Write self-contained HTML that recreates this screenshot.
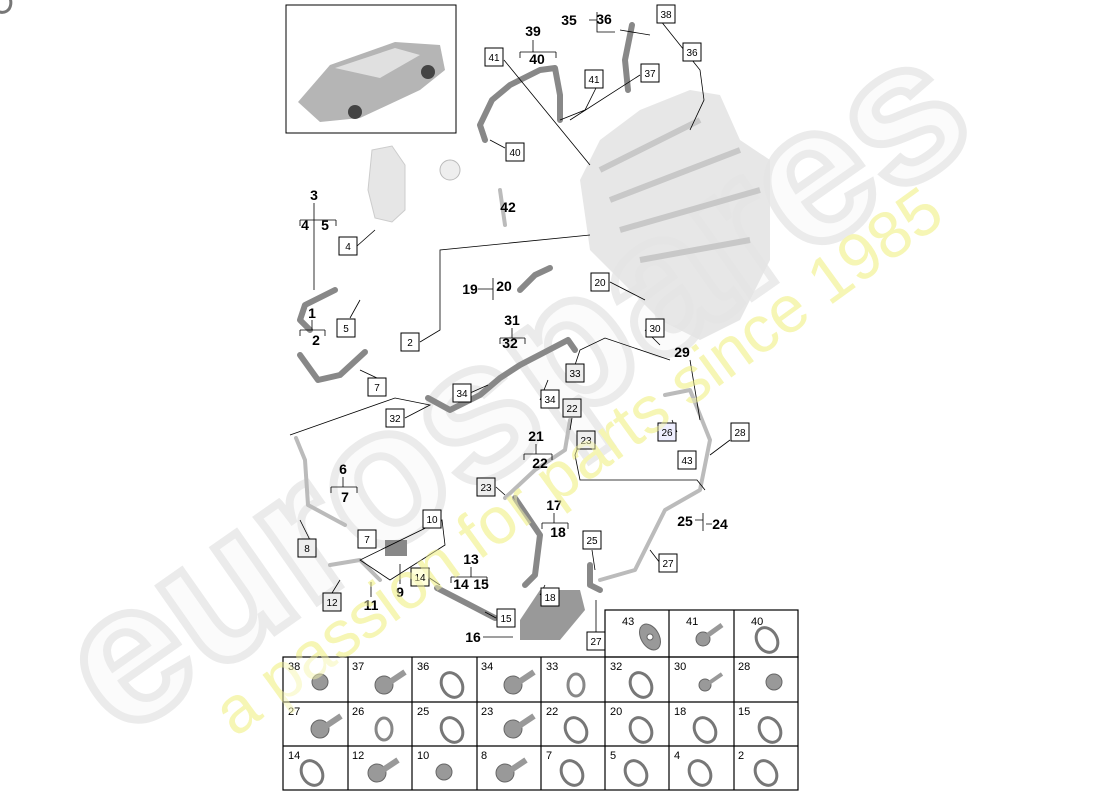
<!DOCTYPE html>
<html><head><meta charset="utf-8"><style>
body{margin:0;width:1100px;height:800px;background:#fff;overflow:hidden}
svg{display:block}
.b{font:bold 14px "Liberation Sans",sans-serif;fill:#000;text-anchor:middle}
.s{font:10px "Liberation Sans",sans-serif;fill:#000;text-anchor:middle}
.g{font:11px "Liberation Sans",sans-serif;fill:#000}
.h{fill:none;stroke:#888;stroke-width:6;stroke-linecap:round;stroke-linejoin:round}
.h2{fill:none;stroke:#bbb;stroke-width:4;stroke-linecap:round;stroke-linejoin:round}
.l{fill:none;stroke:#000;stroke-width:0.8}
</style></head><body>
<svg width="1100" height="800" viewBox="0 0 1100 800">
<text x="120" y="740" transform="rotate(-35 120 740)" style="font:bold 195px 'Liberation Sans',sans-serif;fill:#fbfbfb;stroke:#ebebeb;stroke-width:8">eurospares</text>
<text x="235" y="738" transform="rotate(-36 235 738)" style="font:66px 'Liberation Sans',sans-serif;fill:#f6f6b0;opacity:0.85">a passion for parts since 1985</text>
<rect x="286" y="5" width="170" height="128" fill="#fff" stroke="#000" stroke-width="1"/>
<path d="M298,102 L330,65 L395,42 L440,45 L445,70 L420,90 L360,118 L320,122 Z" fill="#b5b5b5"/>
<path d="M335,68 L395,48 L420,55 L380,78 Z" fill="#e0e0e0"/>
<circle cx="355" cy="112" r="7" fill="#444"/><circle cx="428" cy="72" r="7" fill="#444"/>
<path d="M580,180 L600,140 L640,110 L690,90 L720,95 L740,140 L770,160 L770,260 L740,320 L700,340 L660,320 L620,280 L590,250 Z" fill="#e4e4e4" opacity="0.9"/>
<path d="M600,170 L700,120 M610,200 L740,150 M620,230 L760,190 M640,260 L750,240" stroke="#c8c8c8" stroke-width="6" fill="none"/>
<path d="M372,150 L392,146 L405,165 L405,210 L392,222 L375,218 L368,190 Z" fill="#e6e6e6" stroke="#ccc"/>
<circle cx="450" cy="170" r="10" fill="#eee" stroke="#bbb"/>
<path class="h" d="M485,140 L480,125 L492,100 L510,85 L540,70 L555,68 L560,95 L560,120"/>
<path class="h" d="M632,25 L625,60 L628,90"/>
<path class="h" d="M335,290 L305,305 L300,320 L310,330"/>
<path class="h" d="M300,355 L318,380 L340,375 L365,352"/>
<path class="h" d="M520,290 L535,275 L550,268"/>
<path class="h" d="M428,398 L450,410 L480,395 L500,378 L520,365 L545,352 L568,340 L575,350"/>
<path class="h2" d="M296,438 L305,460 L308,505 L345,525"/>
<path class="h2" d="M505,498 L535,470 L565,450 L570,420"/>
<path class="h" d="M515,498 L540,535 L535,575 L525,585"/>
<path class="h2" d="M665,395 L690,390 L710,440 L700,490 L665,510 L650,540 L635,570 L600,580"/>
<path class="h" d="M590,565 L590,585 L600,590"/>
<path class="h" d="M437,588 L470,605 L495,618"/>
<path class="h2" d="M330,565 L360,560 L380,580"/>
<rect x="385" y="540" width="22" height="16" fill="#888"/>
<path d="M520,620 L540,590 L580,590 L585,610 L560,640 L520,640 Z" fill="#999"/>
<path d="M500,190 L505,225" class="h2"/>
<path class="l" d="M504,60 L590,165 M600,80 L585,110 L560,120 M640,75 L570,120 M660,20 L700,70 L704,100 L690,130 M620,30 L650,35 M505,148 L490,140 M357,246 L375,230 M610,282 L645,300 M350,318 L360,300 M420,342 L440,330 L440,250 L590,235 M377,378 L360,370 M645,330 L660,345 M575,365 L580,350 L605,338 L670,360 M470,393 L488,385 M540,400 L548,380 M405,418 L430,405 L395,398 L290,435 M572,418 L570,430 M677,432 L672,420 M730,440 L710,455 M578,447 L575,455 L580,480 L697,480 L705,490 M496,487 L505,495 M442,520 L360,560 L390,580 L445,545 Z M375,539 L360,535 M310,540 L300,520 M592,550 L595,570 M660,563 L650,550 M428,577 L440,585 M540,595 L545,585 M332,593 L340,580 M496,618 L485,612 M596,632 L596,600 M690,360 L700,420"/>
<path class="l" d="M314,203 V290 M300,220 h36 M300,220 v6 M336,220 v6 M312,320 v10 M300,330 h25 M300,330 v6 M325,330 v6 M533,40 v12 M520,52 h36 M520,52 v6 M556,52 v6 M589,20 h8 M597,12 v20 h18 M478,289 h15 M493,278 v22 M512,328 v10 M500,338 h25 M500,338 v6 M525,338 v6 M536,444 v10 M524,454 h28 M524,454 v6 M552,454 v6 M343,477 v10 M331,487 h26 M331,487 v6 M357,487 v6 M554,513 v10 M542,523 h26 M542,523 v6 M568,523 v6 M471,567 v10 M451,577 h36 M451,577 v6 M487,577 v6 M695,520 h8 M703,513 v18 M706,524 h6 M483,637 h30 M400,584 v-20 M371,597 v-15"/>
<g class="b">
<text x="533" y="36">39</text><text x="537" y="64">40</text><text x="569" y="25">35</text><text x="604" y="24">36</text>
<text x="314" y="200">3</text><text x="305" y="230">4</text><text x="325" y="230">5</text><text x="508" y="212">42</text>
<text x="470" y="294">19</text><text x="504" y="291">20</text><text x="312" y="318">1</text><text x="316" y="345">2</text>
<text x="512" y="325">31</text><text x="510" y="348">32</text><text x="682" y="357">29</text><text x="536" y="441">21</text>
<text x="540" y="468">22</text><text x="343" y="474">6</text><text x="345" y="502">7</text><text x="554" y="510">17</text>
<text x="558" y="537">18</text><text x="685" y="526">25</text><text x="720" y="529">24</text><text x="471" y="564">13</text>
<text x="461" y="589">14</text><text x="481" y="589">15</text><text x="400" y="597">9</text><text x="371" y="610">11</text>
<text x="473" y="642">16</text>
</g>
<g fill="#fff" stroke="#000" stroke-width="1">
<rect x="657" y="5" width="18" height="18"/><rect x="683" y="43" width="18" height="18"/><rect x="485" y="48" width="18" height="18"/>
<rect x="585" y="70" width="18" height="18"/><rect x="641" y="64" width="18" height="18"/><rect x="506" y="143" width="18" height="18"/>
<rect x="339" y="237" width="18" height="18"/><rect x="591" y="273" width="18" height="18"/><rect x="337" y="319" width="18" height="18"/>
<rect x="401" y="333" width="18" height="18"/><rect x="368" y="378" width="18" height="18"/><rect x="646" y="319" width="18" height="18"/>
<rect x="566" y="364" width="18" height="18" fill="#eee"/><rect x="453" y="384" width="18" height="18"/><rect x="541" y="390" width="18" height="18"/>
<rect x="386" y="409" width="18" height="18"/><rect x="563" y="399" width="18" height="18" fill="#eee"/><rect x="658" y="423" width="18" height="18" fill="#eef"/>
<rect x="731" y="423" width="18" height="18"/><rect x="577" y="431" width="18" height="18" fill="#eee"/><rect x="678" y="451" width="18" height="18"/>
<rect x="477" y="478" width="18" height="18" fill="#eee"/><rect x="423" y="510" width="18" height="18"/><rect x="358" y="530" width="18" height="18"/>
<rect x="298" y="539" width="18" height="18" fill="#eee"/><rect x="583" y="531" width="18" height="18"/><rect x="659" y="554" width="18" height="18"/>
<rect x="411" y="568" width="18" height="18" fill="#ffd"/><rect x="541" y="588" width="18" height="18"/><rect x="323" y="593" width="18" height="18" fill="#eee"/>
<rect x="497" y="609" width="18" height="18"/><rect x="587" y="632" width="18" height="18"/>
</g>
<g class="s">
<text x="666" y="18">38</text><text x="692" y="56">36</text><text x="494" y="61">41</text><text x="594" y="83">41</text><text x="650" y="77">37</text>
<text x="515" y="156">40</text><text x="348" y="250">4</text><text x="600" y="286">20</text><text x="346" y="332">5</text><text x="410" y="346">2</text>
<text x="377" y="391">7</text><text x="655" y="332">30</text><text x="575" y="377">33</text><text x="462" y="397">34</text><text x="550" y="403">34</text>
<text x="395" y="422">32</text><text x="572" y="412">22</text><text x="667" y="436">26</text><text x="740" y="436">28</text><text x="586" y="444">23</text>
<text x="687" y="464">43</text><text x="486" y="491">23</text><text x="432" y="523">10</text><text x="367" y="543">7</text><text x="307" y="552">8</text>
<text x="592" y="544">25</text><text x="668" y="567">27</text><text x="420" y="581">14</text><text x="550" y="601">18</text><text x="332" y="606">12</text>
<text x="506" y="622">15</text><text x="596" y="645">27</text>
</g>
<rect x="605" y="610" width="193" height="47" fill="#fff"/>
<rect x="283" y="657" width="515" height="133" fill="#fff"/>
<g fill="none" stroke="#000" stroke-width="1.2">
<rect x="605" y="610" width="193" height="47"/><path d="M669,610 V657 M734,610 V657"/>
<rect x="283" y="657" width="515" height="133"/>
<path d="M283,702 H798 M283,746 H798 M348,657 V790 M412,657 V790 M477,657 V790 M541,657 V790 M605,657 V790 M669,657 V790 M734,657 V790"/>
</g>
<g class="g">
<text x="622" y="625">43</text><text x="686" y="625">41</text><text x="751" y="625">40</text>
<text x="288" y="670">38</text><text x="352" y="670">37</text><text x="417" y="670">36</text><text x="481" y="670">34</text><text x="546" y="670">33</text><text x="610" y="670">32</text><text x="674" y="670">30</text><text x="738" y="670">28</text>
<text x="288" y="715">27</text><text x="352" y="715">26</text><text x="417" y="715">25</text><text x="481" y="715">23</text><text x="546" y="715">22</text><text x="610" y="715">20</text><text x="674" y="715">18</text><text x="738" y="715">15</text>
<text x="288" y="759">14</text><text x="352" y="759">12</text><text x="417" y="759">10</text><text x="481" y="759">8</text><text x="546" y="759">7</text><text x="610" y="759">5</text><text x="674" y="759">4</text><text x="738" y="759">2</text>
</g>
<g fill="#999" stroke="#666">
<ellipse cx="650" cy="637" rx="9" ry="14" transform="rotate(-30 650 637)"/><circle cx="650" cy="637" r="3" fill="#fff"/>
<circle cx="703" cy="639" r="7"/><path d="M708,635 L722,625" stroke="#999" stroke-width="5"/>
<g id="clampA"><ellipse cx="0" cy="0" rx="10" ry="13" fill="none" stroke="#777" stroke-width="3" transform="rotate(-30)"/></g>
<use href="#clampA" x="767" y="640"/>
<circle cx="320" cy="682" r="8"/><circle cx="384" cy="685" r="9"/><path d="M390,682 L405,672" stroke="#999" stroke-width="6"/>
<use href="#clampA" x="452" y="685"/><circle cx="513" cy="685" r="9"/><path d="M519,682 L534,672" stroke="#999" stroke-width="6"/>
<ellipse cx="576" cy="685" rx="8" ry="11" fill="none" stroke="#888" stroke-width="3"/>
<use href="#clampA" x="641" y="685"/><circle cx="705" cy="685" r="6"/><path d="M709,683 L722,674" stroke="#999" stroke-width="4"/>
<circle cx="774" cy="682" r="8"/>
<circle cx="320" cy="729" r="9"/><path d="M326,726 L341,716" stroke="#999" stroke-width="6"/>
<ellipse cx="384" cy="729" rx="8" ry="11" fill="none" stroke="#888" stroke-width="3"/>
<use href="#clampA" x="452" y="730"/><circle cx="513" cy="729" r="9"/><path d="M519,726 L534,716" stroke="#999" stroke-width="6"/>
<use href="#clampA" x="576" y="730"/><use href="#clampA" x="641" y="730"/><use href="#clampA" x="705" y="730"/><use href="#clampA" x="770" y="730"/>
<use href="#clampA" x="312" y="773"/><circle cx="377" cy="773" r="9"/><path d="M383,770 L398,760" stroke="#999" stroke-width="6"/>
<circle cx="444" cy="772" r="8"/><circle cx="505" cy="773" r="9"/><path d="M511,770 L526,760" stroke="#999" stroke-width="6"/>
<use href="#clampA" x="572" y="773"/><use href="#clampA" x="636" y="773"/><use href="#clampA" x="700" y="773"/><use href="#clampA" x="766" y="773"/>
</g>
<text x="235" y="738" transform="rotate(-36 235 738)" style="font:66px 'Liberation Sans',sans-serif;fill:#f6f6b0;opacity:0.5">a passion for parts since 1985</text>
</svg>
</body></html>
